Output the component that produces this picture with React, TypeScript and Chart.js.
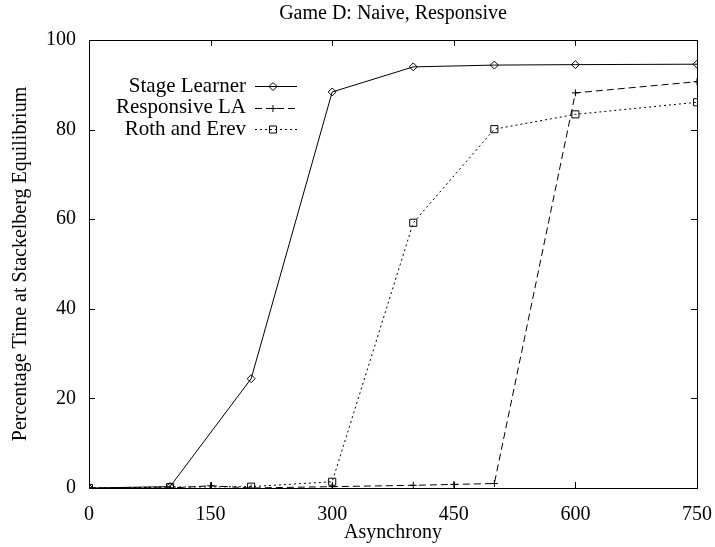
import React, { useEffect, useRef } from 'react';
import { Chart, registerables } from 'chart.js';

Chart.register(...registerables);

const titleText = 'Game D: Naive, Responsive';
const xTitle = 'Asynchrony';
const yTitle = 'Percentage Time at Stackelberg Equilibrium';

const xTicks = [0, 150, 300, 450, 600, 750];
const yTicks = [0, 20, 40, 60, 80, 100];

const seriesLabels = ['Stage Learner', 'Responsive LA', 'Roth and Erev'];

const stageX = [0, 100, 200, 300, 400, 500, 600, 750];
const stageY = [0, 0.3, 24.4, 88.4, 94.0, 94.4, 94.5, 94.6];

const respX = [0, 100, 150, 200, 300, 400, 450, 500, 600, 750];
const respY = [0, 0, 0.5, 0, 0.3, 0.6, 0.8, 1.0, 88.2, 90.7];

const rothX = [0, 100, 200, 300, 400, 500, 600, 750];
const rothY = [0, 0.2, 0.3, 1.4, 59.2, 80.1, 83.4, 86.1];

const FONT = "'Liberation Serif', 'Times New Roman', serif";
const FS = 20;

const pts = (xs: number[], ys: number[]) => xs.map((x, i) => ({ x, y: ys[i] }));

const frameAndTicks = {
  id: 'frameAndTicks',
  afterDatasetsDraw(chart: any) {
    const { ctx, chartArea: a, scales } = chart;
    ctx.save();
    ctx.strokeStyle = '#000';
    ctx.lineWidth = 1;
    ctx.setLineDash([]);
    ctx.strokeRect(Math.round(a.left) + 0.5, Math.round(a.top) + 0.5, Math.round(a.right - a.left), Math.round(a.bottom - a.top));
    const L = 6;
    ctx.beginPath();
    xTicks.forEach((v) => {
      const px = Math.round(scales.x.getPixelForValue(v)) + 0.5;
      ctx.moveTo(px, a.bottom);
      ctx.lineTo(px, a.bottom - L);
      ctx.moveTo(px, a.top);
      ctx.lineTo(px, a.top + L);
    });
    yTicks.forEach((v) => {
      const py = Math.round(scales.y.getPixelForValue(v)) + 0.5;
      ctx.moveTo(a.left, py);
      ctx.lineTo(a.left + L, py);
      ctx.moveTo(a.right, py);
      ctx.lineTo(a.right - L, py);
    });
    ctx.stroke();
    ctx.restore();
  },
};

function drawMarker(ctx: CanvasRenderingContext2D, style: string, x: number, y: number, r: number) {
  ctx.beginPath();
  if (style === 'rectRot') {
    ctx.moveTo(x, y - r);
    ctx.lineTo(x + r, y);
    ctx.lineTo(x, y + r);
    ctx.lineTo(x - r, y);
    ctx.closePath();
  } else if (style === 'cross') {
    ctx.moveTo(x - r, y);
    ctx.lineTo(x + r, y);
    ctx.moveTo(x, y - r);
    ctx.lineTo(x, y + r);
  } else {
    const s = Math.SQRT1_2 * r;
    ctx.rect(x - s, y - s, 2 * s, 2 * s);
  }
  ctx.stroke();
}

const customLegend = {
  id: 'customLegend',
  afterDatasetsDraw(chart: any) {
    const { ctx, chartArea: a } = chart;
    ctx.save();
    ctx.font = `${FS + 1}px ${FONT}`;
    ctx.fillStyle = '#000';
    ctx.textAlign = 'right';
    ctx.textBaseline = 'middle';
    chart.data.datasets.forEach((ds: any, i: number) => {
      const y = a.top + 46 + i * 21.5;
      ctx.fillText(ds.label, a.left + 157, y);
      ctx.strokeStyle = '#000';
      ctx.lineWidth = 1;
      ctx.setLineDash(ds.borderDash || []);
      ctx.beginPath();
      ctx.moveTo(a.left + 166, Math.round(y) + 0.5);
      ctx.lineTo(a.left + 208, Math.round(y) + 0.5);
      ctx.stroke();
      ctx.setLineDash([]);
      drawMarker(ctx, ds.pointStyle, a.left + 184, Math.round(y) + 0.5, ds.pointRadius);
    });
    ctx.restore();
  },
};

export default function App() {
  const ref = useRef<HTMLCanvasElement>(null);
  useEffect(() => {
    document.body.style.margin = '0';
    const canvas = ref.current!;
    const common = {
      borderColor: '#000',
      borderWidth: 1,
      pointBorderColor: '#000',
      pointBackgroundColor: 'rgba(0,0,0,0)',
      pointBorderWidth: 1,
      showLine: true,
      tension: 0,
      fill: false,
    };
    const chart = new Chart(canvas, {
      type: 'scatter',
      data: {
        datasets: [
          { ...common, label: seriesLabels[0], data: pts(stageX, stageY), pointStyle: 'rectRot', pointRadius: 4, borderDash: [] },
          { ...common, label: seriesLabels[1], data: pts(respX, respY), pointStyle: 'cross', pointRadius: 3.5, borderDash: [7, 4] },
          { ...common, label: seriesLabels[2], data: pts(rothX, rothY), pointStyle: 'rect', pointRadius: 5, borderDash: [2, 3] },
        ],
      },
      options: {
        responsive: false,
        animation: false,
        devicePixelRatio: 1,
        layout: { padding: { left: 0, right: 18, top: 0, bottom: 0 } },
        plugins: {
          legend: { display: false },
          tooltip: { enabled: false },
          title: {
            display: true,
            text: titleText,
            fullSize: false,
            color: '#000',
            font: { family: FONT, size: FS, weight: 'normal' },
            padding: { top: 2, bottom: 14 },
          },
        },
        scales: {
          x: {
            type: 'linear',
            min: 0,
            max: 750,
            afterBuildTicks: (s: any) => { s.ticks = xTicks.map((v) => ({ value: v })); },
            afterFit: (s: any) => { s.height = 59; s.paddingLeft = 0; s.paddingRight = 0; },
            grid: { display: false, drawTicks: false },
            border: { display: false },
            ticks: { color: '#000', font: { family: FONT, size: FS }, padding: 15, maxRotation: 0 },
            title: { display: true, text: xTitle, color: '#000', font: { family: FONT, size: FS }, padding: { top: 0, bottom: 2 } },
          },
          y: {
            type: 'linear',
            min: 0,
            max: 100,
            afterBuildTicks: (s: any) => { s.ticks = yTicks.map((v) => ({ value: v })); },
            afterFit: (s: any) => { s.width = 89; s.paddingTop = 0; s.paddingBottom = 0; },
            grid: { display: false, drawTicks: false },
            border: { display: false },
            ticks: { color: '#000', font: { family: FONT, size: FS }, padding: 13 },
            title: { display: true, text: yTitle, color: '#000', font: { family: FONT, size: FS }, padding: { top: 9, bottom: 0 } },
          },
        },
      },
      plugins: [frameAndTicks, customLegend],
    } as any);
    return () => chart.destroy();
  }, []);
  return (
    <div style={{ width: 715, height: 547 }}>
      <canvas ref={ref} width={715} height={547} style={{ display: 'block' }} />
    </div>
  );
}
